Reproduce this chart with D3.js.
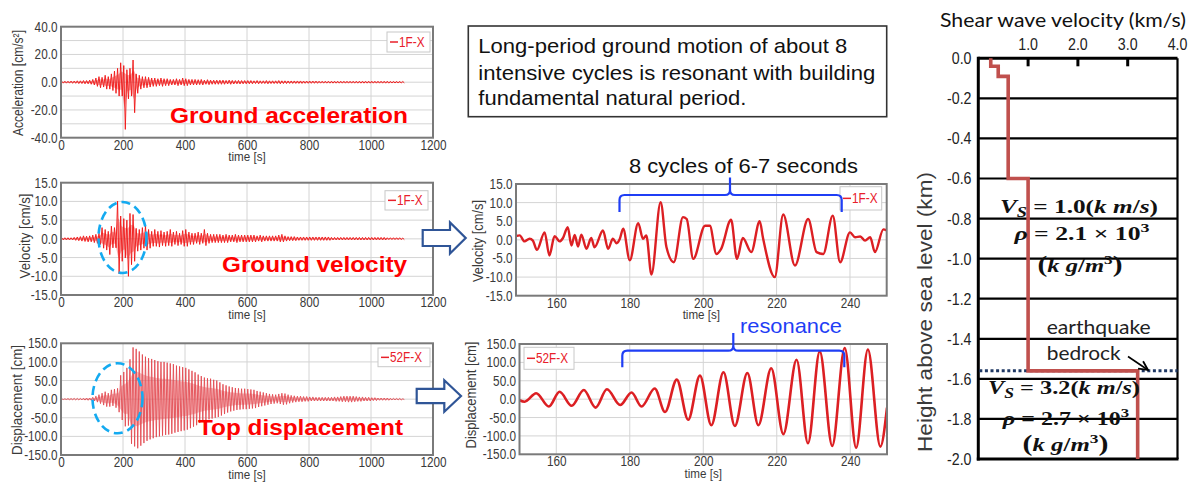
<!DOCTYPE html>
<html><head><meta charset="utf-8">
<script src="https://cdn.jsdelivr.net/npm/d3@7"></script>
<style>body{margin:0;background:#fff}svg{display:block}</style>
</head><body>
<svg id="c" width="1199" height="483"></svg>
<script>
// ---------------- DATA ----------------
// Left panels: min/max envelope per 10 s bin, 0..1100 s
const binTimes = d3.range(0, 1101, 10);
const accHi = [0.7,0.7,0.7,0.8,0.8,1,1,1.2,1.2,1.5,
  2,3,4,3.5,5,4,6,8,10,14,
  12,9,10,16,6,5,4,4,3.5,3,
  3,2.5,3,2.5,2.5,2,2,2.5,2,3,
  2.5,2,2,2,1.8,2,1.5,1.8,1.5,1.5,
  1.5,1.5,1.5,1.3,1.5,1.3,1.2,1.3,1.2,1.2,
  1.2,1.2,1,1.2,1,1,1.2,1,1,1,
  1.2,1,1,0.9,0.9,0.9,0.9,0.9,0.8,0.8,
  0.8,0.8,0.8,0.7,0.7,0.7,0.7,0.7,0.7,0.7,
  0.7,0.7,0.7,0.7,0.7,0.7,0.7,0.7,0.7,0.7,
  0.7,0.7,0.7,0.7,0.7,0.7,0.6,0.6,0.6,0.6,0.5];
const accLo = [-0.7,-0.7,-0.7,-0.8,-0.8,-1,-1,-1.2,-1.2,-1.5,
  -2,-3,-4,-3.5,-5,-5,-6,-8,-10,-10,
  -34,-12,-10,-22,-8,-5,-4,-4,-3.5,-3,
  -3,-2.5,-3,-2.5,-2.5,-2,-2,-2.5,-2,-2.5,
  -2.5,-2,-2,-2,-1.8,-2,-1.5,-1.8,-1.5,-1.5,
  -1.5,-1.5,-1.5,-1.3,-1.5,-1.3,-1.2,-1.3,-1.2,-1.2,
  -1.2,-1.2,-1,-1.2,-1,-1,-1.2,-1,-1,-1,
  -1.2,-1,-1,-0.9,-0.9,-0.9,-0.9,-0.9,-0.8,-0.8,
  -0.8,-0.8,-0.8,-0.7,-0.7,-0.7,-0.7,-0.7,-0.7,-0.7,
  -0.7,-0.7,-0.7,-0.7,-0.7,-0.7,-0.7,-0.7,-0.7,-0.7,
  -0.7,-0.7,-0.7,-0.7,-0.7,-0.7,-0.6,-0.6,-0.6,-0.6,-0.5];
const velHi = [0.3,0.3,0.3,0.3,0.4,0.5,0.6,0.8,0.7,0.8,
  1,1.2,1.5,3,2.5,2,3.4,3,10.1,6.1,
  5.4,5,6.8,6.5,2.8,2.5,3,3.5,2.5,2,
  2.5,2,2.2,1.8,2,2.5,1.8,2,1.5,2.2,
  2.5,1.8,1.5,1.5,1.8,1.5,2.5,1.5,1.2,1.2,
  1.2,1.2,1,1.2,1,1,1.2,1,1,1,
  1,1,1,0.8,1,0.8,0.8,0.8,0.8,0.8,
  1,1.2,0.8,0.6,0.6,0.6,0.5,0.5,0.5,0.5,
  0.5,0.5,0.5,0.5,0.5,0.5,0.5,0.4,0.4,0.4,
  0.4,0.4,0.4,0.4,0.4,0.4,0.4,0.4,0.4,0.4,
  0.4,0.4,0.4,0.4,0.4,0.3,0.3,0.3,0.3,0.3,0.2];
const velLo = [-0.3,-0.3,-0.3,-0.3,-0.4,-0.5,-0.6,-0.7,-0.8,-0.8,
  -1,-1.2,-1.5,-2.5,-3,-4.2,-2.4,-2.4,-9.3,-6,
  -5.1,-10,-6.9,-6,-3.3,-3,-2.5,-3,-2.5,-2,
  -2,-2.2,-1.8,-2,-1.8,-2,-1.5,-1.8,-1.5,-2,
  -2,-1.5,-1.5,-1.2,-1.5,-1.2,-1.8,-1.2,-1,-1,
  -1,-1,-1,-1,-0.8,-0.8,-1,-0.8,-0.8,-0.8,
  -0.8,-0.8,-0.8,-0.6,-0.8,-0.6,-0.6,-0.6,-0.6,-0.6,
  -0.8,-0.8,-0.6,-0.5,-0.5,-0.5,-0.4,-0.4,-0.4,-0.4,
  -0.4,-0.4,-0.4,-0.4,-0.4,-0.4,-0.4,-0.3,-0.3,-0.3,
  -0.3,-0.3,-0.3,-0.3,-0.3,-0.3,-0.3,-0.3,-0.3,-0.3,
  -0.3,-0.3,-0.3,-0.3,-0.3,-0.2,-0.2,-0.2,-0.2,-0.2,-0.2];
const dispHi = [1,1,1.5,1.5,2,2,2,2.5,3,3,
  5,8,12,16,20,16,25,27,29,64,
  73,84,107,139,135,128,120,114,110,108,
  105,102,100,100,98,96,94,90,88,86,
  84,80,76,72,66,62,58,56,55,52,
  50,45,40,37,34,32,30,29,28,28,
  27,26,25,22,20,18,16,14,13,12,
  14,16,15,12,10,9,8,8,7,7,
  6,6,5,5,5,5,5,5,6,6,
  7,8,8,8,8,7,6,6,5,5,
  4,4,3,3,3,3,2,2,2,2,1];
const dispLo = [-1,-1,-1.5,-1.5,-2,-2,-2,-2.5,-3,-3,
  -5,-8,-12,-16,-20,-20,-18,-23,-35,-56,
  -73,-71,-120,-127,-132,-125,-118,-112,-108,-105,
  -102,-100,-98,-96,-95,-93,-90,-88,-86,-84,
  -82,-78,-74,-70,-64,-60,-56,-54,-52,-50,
  -48,-44,-40,-36,-33,-31,-29,-28,-27,-27,
  -26,-25,-24,-21,-19,-17,-15,-13,-12,-11,
  -13,-15,-14,-11,-9,-8,-7,-7,-6,-6,
  -5,-5,-5,-5,-5,-5,-5,-5,-6,-6,
  -7,-7,-8,-8,-7,-6,-6,-5,-5,-5,
  -4,-4,-3,-3,-3,-3,-2,-2,-2,-2,-1];

// Middle panels: zoomed time histories 150..250 s
const velZoomT = [149,150,151.3,152.7,153.6,154.7,156.8,158.1,159.5,160.9,161.8,163.1,164.1,165,165.9,166.8,168.2,169.5,170.4,172.7,174.1,175.4,176.4,177.3,178.2,180,182.3,183.6,184.5,185.9,188.4,190,192,194.5,195.5,197.3,200.5,201.8,203.6,204.9,207.6,209.2,210.8,213.1,215.4,216.3,219.5,221.8,225,228.6,230.9,232.7,235.3,237.3,240,241.4,242.8,244.1,245.5,246.8,249.1,250];
const velZoomV = [1,1.2,-0.4,0.3,-0.2,-2.7,2,-4.2,1,-0.4,0.5,3.4,-1.5,1.3,-1.8,1.4,-2.4,0.5,-2,2.5,-2.4,0.3,-0.9,0.3,3,-5.5,4.5,0.3,1.2,-9.3,10.1,-2,-6,6.1,5.6,-5.1,3.8,3.8,-3.8,-2.4,5.4,-5.1,0.5,-3.3,5,0.5,-10,6.8,-6.9,5.6,-3.3,-3.8,6.5,-6,2,0.7,0.9,-0.2,0.7,-3.3,2.8,2.5];
const dispZoomT = [150,151.4,154.55,158,160.9,164.2,167.5,170.7,173.8,177.4,180.5,183.2,186.8,189.6,192.8,195.9,199.1,202.2,205.5,208.6,212,215,218.5,221.8,225.4,228.5,231.7,235.1,238.5,241.6,244.8,248.2,250];
const dispZoomV = [-3,-7,16,-20,20,-18,25,-23,27,-16,18,-20,29,-35,53,-56,64,-71,73,-73,71,-71,84,-95,107,-120,130,-127,139,-132,135,-129,-23];

// Right panel: shear wave velocity profile
const layerVs = [0.25,0.4,0.6,1.0,3.2];
const layerTop = [0,-0.04,-0.09,-0.6,-1.56];
const layerBottom = [-0.04,-0.09,-0.6,-1.56,-2.0];
const depthTicks = [0,-0.2,-0.4,-0.6,-0.8,-1.0,-1.2,-1.4,-1.6,-1.8,-2.0];
const vsTicks = [1,2,3,4];
const bedrockDepth = -1.56;

const leftXTicks = [0,200,400,600,800,1000,1200];
const zoomXTicks = [160,180,200,220,240];

// ---------------- DRAW ----------------
const svg = d3.select('#c');
const SANS = "'Liberation Sans', Arial, sans-serif";
const BLUE = '#1f3ef5';

function fitW(node, target, ax){
  const w = node.getBBox().width;
  if (w > 0) d3.select(node).attr('transform', `translate(${ax},0) scale(${target/w},1) translate(${-ax},0)`);
}
function squish(sel, f){
  sel.each(function(){ const w=this.getComputedTextLength(); if(w>0){ this.setAttribute('textLength',(w*f).toFixed(2)); this.setAttribute('lengthAdjust','spacingAndGlyphs'); }});
}
let clipId = 0;
function panel(o){
  const x = d3.scaleLinear().domain(o.xDom).range([o.left,o.right]);
  const y = d3.scaleLinear().domain(o.yDom).range([o.bottom,o.top]);
  const g = svg.append('g');
  g.append('rect').attr('x',o.left).attr('y',o.top).attr('width',o.right-o.left).attr('height',o.bottom-o.top).attr('fill','#fff');
  g.append('g').selectAll('line').data(o.yGrid).join('line')
    .attr('x1',o.left).attr('x2',o.right).attr('y1',d=>y(d)).attr('y2',d=>y(d))
    .attr('stroke','#d4d4d4').attr('stroke-width',1);
  g.append('g').selectAll('line').data(o.xTicks).join('line')
    .attr('y1',o.top).attr('y2',o.bottom).attr('x1',d=>x(d)).attr('x2',d=>x(d))
    .attr('stroke','#d4d4d4').attr('stroke-width',1);
  const ya = g.append('g').attr('transform',`translate(${o.left},0)`)
    .call(d3.axisLeft(y).tickValues(o.yTicks).tickFormat(d=>d.toFixed(1)).tickSize(0).tickPadding(3.5));
  ya.select('.domain').remove();
  ya.selectAll('text').attr('font-family',SANS).attr('font-size',14).attr('fill','#3a3a3a');
  squish(ya.selectAll('text'), 0.84);
  const xa = g.append('g').attr('transform',`translate(0,${o.bottom})`)
    .call(d3.axisBottom(x).tickValues(o.xTicks).tickFormat(d=>String(d)).tickSize(0).tickPadding(2));
  xa.select('.domain').remove();
  xa.selectAll('text').attr('font-family',SANS).attr('font-size',14).attr('fill','#3a3a3a');
  squish(xa.selectAll('text'), 0.84);
  const xt = g.append('text').attr('x',(o.left+o.right)/2).attr('y',o.bottom+23.5).attr('text-anchor','middle')
    .attr('font-family',SANS).attr('font-size',13.5).attr('fill','#3a3a3a').text('time [s]');
  squish(xt, 0.86);
  g.append('text').attr('transform',`translate(${o.ylabX},${o.ylabY}) rotate(-90)`).attr('text-anchor','middle')
    .attr('dy','0.35em').attr('font-family',SANS).attr('font-size',14).attr('fill','#3a3a3a')
    .attr('textLength',o.ylabLen).attr('lengthAdjust','spacingAndGlyphs').text(o.ylab);
  const id = 'clip'+(clipId++);
  svg.append('clipPath').attr('id',id).append('rect').attr('x',o.left).attr('y',o.top).attr('width',o.right-o.left).attr('height',o.bottom-o.top);
  const plot = g.append('g').attr('clip-path',`url(#${id})`);
  const frame = () => g.append('rect').attr('x',o.left).attr('y',o.top).attr('width',o.right-o.left).attr('height',o.bottom-o.top)
    .attr('fill','none').attr('stroke','#7a7a7a').attr('stroke-width',2);
  return {x,y,g,plot,frame};
}
function legend(g, x0,y0,x1,y1,label,color){
  g.append('rect').attr('x',x0).attr('y',y0).attr('width',x1-x0).attr('height',y1-y0).attr('fill','#fff').attr('stroke','#c8c8c8').attr('stroke-width',1);
  const ym=(y0+y1)/2;
  g.append('line').attr('x1',x0+3).attr('x2',x0+11).attr('y1',ym).attr('y2',ym).attr('stroke',color).attr('stroke-width',1.5);
  const t = g.append('text').attr('x',x0+12).attr('y',ym).attr('dy','0.36em').attr('font-family',SANS).attr('font-size',14).attr('fill',color).text(label);
  squish(t,0.84);
}
function envelopePath(p, hi, lo, color, width, op, fill, fillOp){
  // light band between the envelope values
  p.plot.append('path').datum(binTimes.map((t,i)=>[t+5, hi[i], lo[i]]))
    .attr('d', d3.area().x(d=>p.x(d[0])).y0(d=>p.y(d[2]*0.55)).y1(d=>p.y(d[1]*0.55)))
    .attr('fill',fill).attr('fill-opacity',fillOp);
  const pts = [];
  binTimes.forEach((t,i)=>{ pts.push([t+2.5, hi[i]]); pts.push([t+7.5, lo[i]]); });
  p.plot.append('path').datum(pts).attr('d', d3.line().x(d=>p.x(d[0])).y(d=>p.y(d[1])))
    .attr('fill','none').attr('stroke',color).attr('stroke-width',width).attr('stroke-opacity',op).attr('stroke-linejoin','round');
}
function bigLabel(str, x, y, len){
  svg.append('text').attr('x',x).attr('y',y).attr('font-family',SANS).attr('font-weight','bold').attr('font-size',22)
    .attr('fill','#ff0000').attr('textLength',len).attr('lengthAdjust','spacingAndGlyphs').text(str);
}

// Left: acceleration
const pA = panel({left:61,right:433,top:26.7,bottom:137.7,xDom:[0,1200],yDom:[-40,40],
  xTicks:leftXTicks,yTicks:[-40,-20,0,20,40],yGrid:[-30,-20,-10,0,10,20,30],
  ylab:'Acceleration [cm/s²]',ylabX:18.5,ylabY:83,ylabLen:106});
envelopePath(pA, accHi, accLo, '#f01515', 1, 0.9, '#f01515', 0.35);
pA.frame();
legend(pA.g,387,32,430,52,'1F-X','#e8202a');
bigLabel('Ground acceleration',170,123,238);

// Left: velocity
const pV = panel({left:61,right:433,top:182.7,bottom:295,xDom:[0,1200],yDom:[-15,15],
  xTicks:leftXTicks,yTicks:[-15,-10,-5,0,5,10,15],yGrid:[-10,-5,0,5,10],
  ylab:'Velocity [cm/s]',ylabX:25,ylabY:236,ylabLen:85});
envelopePath(pV, velHi, velLo, '#f01515', 1, 0.9, '#f01515', 0.35);
pV.frame();
legend(pV.g,385,190.7,428,210,'1F-X','#e8202a');
svg.append('ellipse').attr('cx',122.5).attr('cy',237.5).attr('rx',24).attr('ry',35.5)
  .attr('fill','none').attr('stroke','#14aaf0').attr('stroke-width',2.6).attr('stroke-dasharray','9,5');
bigLabel('Ground velocity',222,272,185);

// Left: displacement
const pD = panel({left:61,right:433,top:343.3,bottom:455,xDom:[0,1200],yDom:[-150,150],
  xTicks:leftXTicks,yTicks:[-150,-100,-50,0,50,100,150],yGrid:[-100,-50,0,50,100],
  ylab:'Displacement [cm]',ylabX:17.5,ylabY:400,ylabLen:110});
envelopePath(pD, dispHi, dispLo, '#e2474d', 1, 0.85, '#e86a70', 0.45);
pD.frame();
legend(pD.g,378,348,430,366.7,'52F-X','#e8202a');
svg.append('ellipse').attr('cx',117.5).attr('cy',398.3).attr('rx',25).attr('ry',35)
  .attr('fill','none').attr('stroke','#14aaf0').attr('stroke-width',2.6).attr('stroke-dasharray','9,5');
bigLabel('Top displacement',198,435,205);

// Middle: zoomed velocity
const pVZ = panel({left:516,right:886.7,top:184,bottom:295.7,xDom:[149,250],yDom:[-15,15],
  xTicks:zoomXTicks,yTicks:[-15,-10,-5,0,5,10,15],yGrid:[-10,-5,0,5,10],
  ylab:'Velocity [cm/s]',ylabX:478,ylabY:241,ylabLen:82});
pVZ.plot.append('path').datum(velZoomT.map((t,i)=>[t,velZoomV[i]]))
  .attr('d', d3.line().curve(d3.curveMonotoneX).x(d=>pVZ.x(d[0])).y(d=>pVZ.y(d[1])))
  .attr('fill','none').attr('stroke','#dc1f23').attr('stroke-width',2.4).attr('stroke-linejoin','round');
pVZ.frame();
legend(pVZ.g,840,186.7,881.7,210,'1F-X','#e8202a');

// Middle: zoomed displacement
const pDZ = panel({left:519.5,right:887,top:344,bottom:454.3,xDom:[150,250],yDom:[-150,150],
  xTicks:zoomXTicks,yTicks:[-150,-100,-50,0,50,100,150],yGrid:[-100,-50,0,50,100],
  ylab:'Displacement [cm]',ylabX:471,ylabY:395,ylabLen:107});
pDZ.plot.append('path').datum(dispZoomT.map((t,i)=>[t,dispZoomV[i]]))
  .attr('d', d3.line().curve(d3.curveMonotoneX).x(d=>pDZ.x(d[0])).y(d=>pDZ.y(d[1])))
  .attr('fill','none').attr('stroke','#dc1f23').attr('stroke-width',2.6).attr('stroke-linejoin','round');
pDZ.frame();
legend(pDZ.g,524,347.3,574,369.3,'52F-X','#e8202a');

// Braces + annotations
function brace(x0,x1,xm,yEnd,yBar,yTop){
  const r=5;
  const d = `M${x0},${yEnd} L${x0},${yBar+r} Q${x0},${yBar} ${x0+r},${yBar} L${xm-r},${yBar} Q${xm},${yBar} ${xm},${yBar-r} L${xm},${yTop}`+
            ` M${xm},${yBar-r} Q${xm},${yBar} ${xm+r},${yBar} L${x1-r},${yBar} Q${x1},${yBar} ${x1},${yBar+r} L${x1},${yEnd}`;
  svg.append('path').attr('d',d).attr('fill','none').attr('stroke',BLUE).attr('stroke-width',2.2);
}
brace(619.5,841.7,730,212,195,177.5);
svg.append('text').attr('x',629).attr('y',173).attr('font-family',SANS).attr('font-size',20).attr('fill','#111')
  .attr('textLength',229).attr('lengthAdjust','spacingAndGlyphs').text('8 cycles of 6-7 seconds');
brace(622.3,844.3,733.3,367.3,350.7,333);
svg.append('text').attr('x',740).attr('y',332.5).attr('font-family',SANS).attr('font-size',21).attr('fill',BLUE)
  .attr('textLength',102).attr('lengthAdjust','spacingAndGlyphs').text('resonance');

// Block arrows
function blockArrow(x0,xn,xt,cy,sh,hh){
  const pts = [[x0,cy-sh],[xn,cy-sh],[xn,cy-hh],[xt,cy],[xn,cy+hh],[xn,cy+sh],[x0,cy+sh]];
  svg.append('polygon').attr('points',pts.map(p=>p.join(',')).join(' '))
    .attr('fill','#fff').attr('stroke','#2f5597').attr('stroke-width',2.2).attr('stroke-linejoin','miter');
}
blockArrow(422.7,450,465.7,238,8,15.5);
blockArrow(416.7,444.3,461,396,7.2,15.8);

// Text box
svg.append('rect').attr('x',468.3).attr('y',26).attr('width',418.4).attr('height',90.7)
  .attr('fill','#fff').attr('stroke','#333').attr('stroke-width',1.6);
[['Long-period ground motion of about 8',53.3,369],['intensive cycles is resonant with building',79.5,397],['fundamental natural period.',104.8,268]]
  .forEach(([s,y,l])=>svg.append('text').attr('x',478.3).attr('y',y).attr('font-family',SANS).attr('font-size',21).attr('fill','#111')
  .attr('textLength',l).attr('lengthAdjust','spacingAndGlyphs').text(s));

// ---------------- Right panel ----------------
const vx = d3.scaleLinear().domain([0,4]).range([978.3,1177.5]);
const vy = d3.scaleLinear().domain([0,-2]).range([58.3,459]);
const R = svg.append('g');
R.append('g').selectAll('line').data(depthTicks.slice(1,-1)).join('line')
  .attr('x1',vx(0)).attr('x2',vx(4)).attr('y1',d=>vy(d)).attr('y2',d=>vy(d)).attr('stroke','#000').attr('stroke-width',2.2);
R.append('line').attr('x1',vx(0)).attr('x2',vx(4)).attr('y1',vy(0)).attr('y2',vy(0)).attr('stroke','#000').attr('stroke-width',3);
R.append('line').attr('x1',vx(0)-1.5).attr('x2',vx(4)+1).attr('y1',vy(-2)).attr('y2',vy(-2)).attr('stroke','#000').attr('stroke-width',3);
R.append('line').attr('x1',vx(0)).attr('x2',vx(0)).attr('y1',vy(0)-1.5).attr('y2',vy(-2)+1.5).attr('stroke','#000').attr('stroke-width',3);
R.append('line').attr('x1',vx(4)).attr('x2',vx(4)).attr('y1',vy(0)).attr('y2',vy(-2)).attr('stroke','#000').attr('stroke-width',2.2);
R.append('g').selectAll('line').data(vsTicks.slice(0,-1)).join('line')
  .attr('x1',d=>vx(d)).attr('x2',d=>vx(d)).attr('y1',vy(0)).attr('y2',vy(0)+8).attr('stroke','#000').attr('stroke-width',3);
// tick labels
const tl = R.append('g').selectAll('text').data(depthTicks).join('text')
  .attr('x',971.5).attr('y',d=>vy(d)).attr('dy','0.36em').attr('text-anchor','end')
  .attr('font-family',SANS).attr('font-size',16.5).attr('fill','#222').text(d=>d.toFixed(1));
squish(tl,0.86);
const tt = R.append('g').selectAll('text').data(vsTicks).join('text')
  .attr('x',d=>vx(d)).attr('y',50).attr('text-anchor','middle')
  .attr('font-family',SANS).attr('font-size',16.5).attr('fill','#222').text(d=>d.toFixed(1));
squish(tt,0.86);
// bedrock dotted line
R.append('line').attr('x1',vx(0)+1).attr('x2',vx(4)).attr('y1',vy(bedrockDepth)).attr('y2',vy(bedrockDepth))
  .attr('stroke','#1f3864').attr('stroke-width',3).attr('stroke-dasharray','3,2.6');
// profile
const prof = [];
layerVs.forEach((v,i)=>{ prof.push([v,layerTop[i]]); prof.push([v,layerBottom[i]]); });
R.append('path').datum(prof).attr('d',d3.line().x(d=>vx(d[0])).y(d=>vy(d[1])))
  .attr('fill','none').attr('stroke','#c0504d').attr('stroke-width',3.6).attr('stroke-linejoin','miter');
// titles
R.append('text').attr('x',940).attr('y',27).attr('font-family',"Lato,'Open Sans',sans-serif").attr('font-size',19).attr('fill','#111')
  .attr('textLength',246).attr('lengthAdjust','spacingAndGlyphs').text('Shear wave velocity (km/s)');
R.append('text').attr('transform','translate(925,312) rotate(-90)').attr('text-anchor','middle').attr('dy','0.35em')
  .attr('font-family',SANS).attr('font-size',19.5).attr('fill','#3a3a3a')
  .attr('textLength',280).attr('lengthAdjust','spacingAndGlyphs').text('Height above sea level (km)');
R.append('text').attr('x',1046.7).attr('y',334).attr('font-family',"Lato,'Open Sans',sans-serif").attr('font-size',20).attr('fill','#222')
  .attr('textLength',104).attr('lengthAdjust','spacingAndGlyphs').text('earthquake');
R.append('text').attr('x',1046.7).attr('y',360).attr('font-family',"Lato,'Open Sans',sans-serif").attr('font-size',20).attr('fill','#222')
  .attr('textLength',74).attr('lengthAdjust','spacingAndGlyphs').text('bedrock');
// small arrow
svg.append('defs').append('marker').attr('id','ah').attr('viewBox','0 0 10 10').attr('refX',9).attr('refY',5)
  .attr('markerWidth',7).attr('markerHeight',7).attr('orient','auto-start-reverse')
  .append('path').attr('d','M1,1 L9,5 L1,9').attr('fill','none').attr('stroke','#000').attr('stroke-width',1.6);
R.append('line').attr('x1',1128).attr('y1',356.5).attr('x2',1148).attr('y2',370).attr('stroke','#000').attr('stroke-width',1.6).attr('marker-end','url(#ah)');

// math labels
function mathText(parts, cx, y, width, size){
  const t = R.append('text').attr('x',cx).attr('y',y).attr('text-anchor','middle')
    .attr('font-family',"'Liberation Serif','DejaVu Serif',serif").attr('font-weight','bold').attr('font-size',size).attr('fill','#111');
  parts.forEach(p=>{
    const s = t.append('tspan').text(p.t);
    if (p.i) s.attr('font-style','italic');
    if (p.sub) s.attr('font-size',size*0.72).attr('dy',4);
    if (p.sup) s.attr('font-size',size*0.7).attr('dy',-8);
    if (p.back) s.attr('dy',p.back);
    if (p.big) s.attr('font-size',size*1.2);
  });
  fitW(t.node(), width, cx);
}
mathText([{t:'V',i:true},{t:'S',i:true,sub:true},{t:' = 1.0(',back:-4},{t:'k m',i:true},{t:'/'},{t:'s',i:true},{t:')'}],1079,213,158,19);
mathText([{t:'ρ',i:true},{t:' = 2.1 × 10'},{t:'3',sup:true}],1082,240,137,19);
mathText([{t:'(',big:true},{t:'k g',i:true},{t:'/'},{t:'m',i:true},{t:'3',sup:true},{t:')',big:true,back:8}],1080,272,85,19);
mathText([{t:'V',i:true},{t:'S',i:true,sub:true},{t:' = 3.2(',back:-4},{t:'k m',i:true},{t:'/'},{t:'s',i:true},{t:')'}],1064,394.5,152,19);
mathText([{t:'ρ',i:true},{t:' = 2.7 × 10'},{t:'3',sup:true}],1066,425,128,19);
mathText([{t:'(',big:true},{t:'k g',i:true},{t:'/'},{t:'m',i:true},{t:'3',sup:true},{t:')',big:true,back:8}],1065.5,451.5,86,19);
</script>
</body></html>
